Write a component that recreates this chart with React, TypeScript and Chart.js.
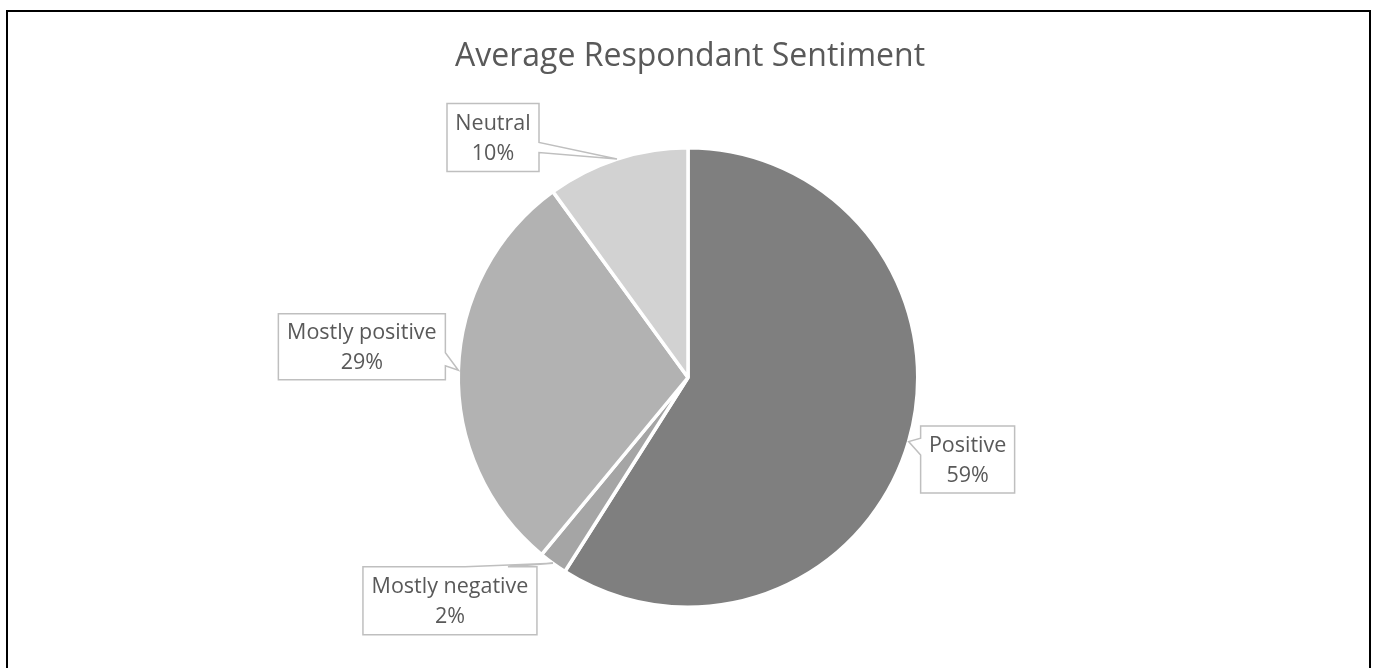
import React, { useEffect, useRef } from "react";
import { Chart, registerables } from "chart.js";

Chart.register(...registerables);

const TITLE = "Average Respondant Sentiment";
const categories = ["Positive", "Mostly negative", "Mostly positive", "Neutral"];
const values = [59, 2, 29, 10];
const percentLabels = ["59%", "2%", "29%", "10%"];
const colors = ["#7f7f7f", "#a5a5a5", "#b2b2b2", "#d2d2d2"];

// Callout box layout, relative to leader tip on the slice edge
// side: where the wedge enters the box; j1/j2: joint offsets along that side (relative to tip)
const callouts = [
  { side: "left", dx: 12, dy: -15.5, w: 94, h: 67, j1: -3.5, j2: 13.5 },
  { side: "top", dx: -190, dy: 3.5, w: 174, h: 68, j1: -88, j2: -45 },
  { side: "right", dx: -180, dy: -56.5, w: 167, h: 66, j1: -17.5, j2: -4.5 },
  { side: "right", dx: -170, dy: -55.5, w: 92, h: 68, j1: -16.5, j2: -6.5 },
];

const FONT = "'Open Sans', 'Noto Sans', sans-serif";
const TEXT_COLOR = "#595959";

const overlayPlugin = {
  id: "overlay",
  beforeDraw(chart: any) {
    const ctx = chart.ctx;
    ctx.save();
    ctx.fillStyle = "#ffffff";
    ctx.fillRect(0, 0, chart.width, chart.height);
    ctx.strokeStyle = "#000000";
    ctx.lineWidth = 2;
    ctx.strokeRect(7, 11, 1363, 700);
    ctx.fillStyle = TEXT_COLOR;
    ctx.font = `32px ${FONT}`;
    ctx.textAlign = "center";
    ctx.textBaseline = "middle";
    ctx.fillText(TITLE, 690, 57);
    ctx.restore();
  },
  afterDraw(chart: any) {
    const ctx = chart.ctx;
    const meta = chart.getDatasetMeta(0);
    ctx.save();
    meta.data.forEach((arc: any, i: number) => {
      const p = arc.getProps(["x", "y", "startAngle", "endAngle", "outerRadius"], true);
      const mid = (p.startAngle + p.endAngle) / 2;
      const tx = p.x + Math.cos(mid) * p.outerRadius;
      const ty = p.y + Math.sin(mid) * p.outerRadius;
      const c = callouts[i];
      const L = tx + c.dx;
      const T = ty + c.dy;
      const R = L + c.w;
      const B = T + c.h;
      ctx.beginPath();
      ctx.moveTo(L, T);
      if (c.side === "top") {
        ctx.lineTo(tx + c.j1, T);
        ctx.lineTo(tx, ty);
        ctx.lineTo(tx + c.j2, T);
      }
      ctx.lineTo(R, T);
      if (c.side === "right") {
        ctx.lineTo(R, ty + c.j1);
        ctx.lineTo(tx, ty);
        ctx.lineTo(R, ty + c.j2);
      }
      ctx.lineTo(R, B);
      ctx.lineTo(L, B);
      if (c.side === "left") {
        ctx.lineTo(L, ty + c.j2);
        ctx.lineTo(tx, ty);
        ctx.lineTo(L, ty + c.j1);
      }
      ctx.closePath();
      ctx.fillStyle = "#ffffff";
      ctx.fill();
      ctx.strokeStyle = "#bfbfbf";
      ctx.lineWidth = 1.5;
      ctx.stroke();
      ctx.fillStyle = TEXT_COLOR;
      ctx.font = `21.5px ${FONT}`;
      ctx.textAlign = "center";
      ctx.textBaseline = "middle";
      const cx = (L + R) / 2;
      const cy = (T + B) / 2;
      ctx.fillText(categories[i], cx, cy - 14);
      ctx.fillText(percentLabels[i], cx, cy + 16);
    });
    ctx.restore();
  },
};

export default function App() {
  const ref = useRef<HTMLCanvasElement | null>(null);
  useEffect(() => {
    if (!ref.current) return;
    const chart = new Chart(ref.current, {
      type: "pie",
      data: {
        labels: categories,
        datasets: [
          {
            data: values,
            backgroundColor: colors,
            borderColor: "#ffffff",
            borderWidth: 3.5,
          },
        ],
      },
      options: {
        responsive: false,
        animation: false,
        layout: { padding: { top: 146, bottom: 59, left: 388, right: 387 } },
        plugins: {
          legend: { display: false },
          tooltip: { enabled: false },
          title: { display: false },
        },
      },
      plugins: [overlayPlugin],
    });
    return () => chart.destroy();
  }, []);
  return (
    <div style={{ position: "fixed", left: 0, top: 0, width: 1375, height: 668 }}>
      <canvas ref={ref} width={1375} height={668} style={{ display: "block" }} />
    </div>
  );
}
